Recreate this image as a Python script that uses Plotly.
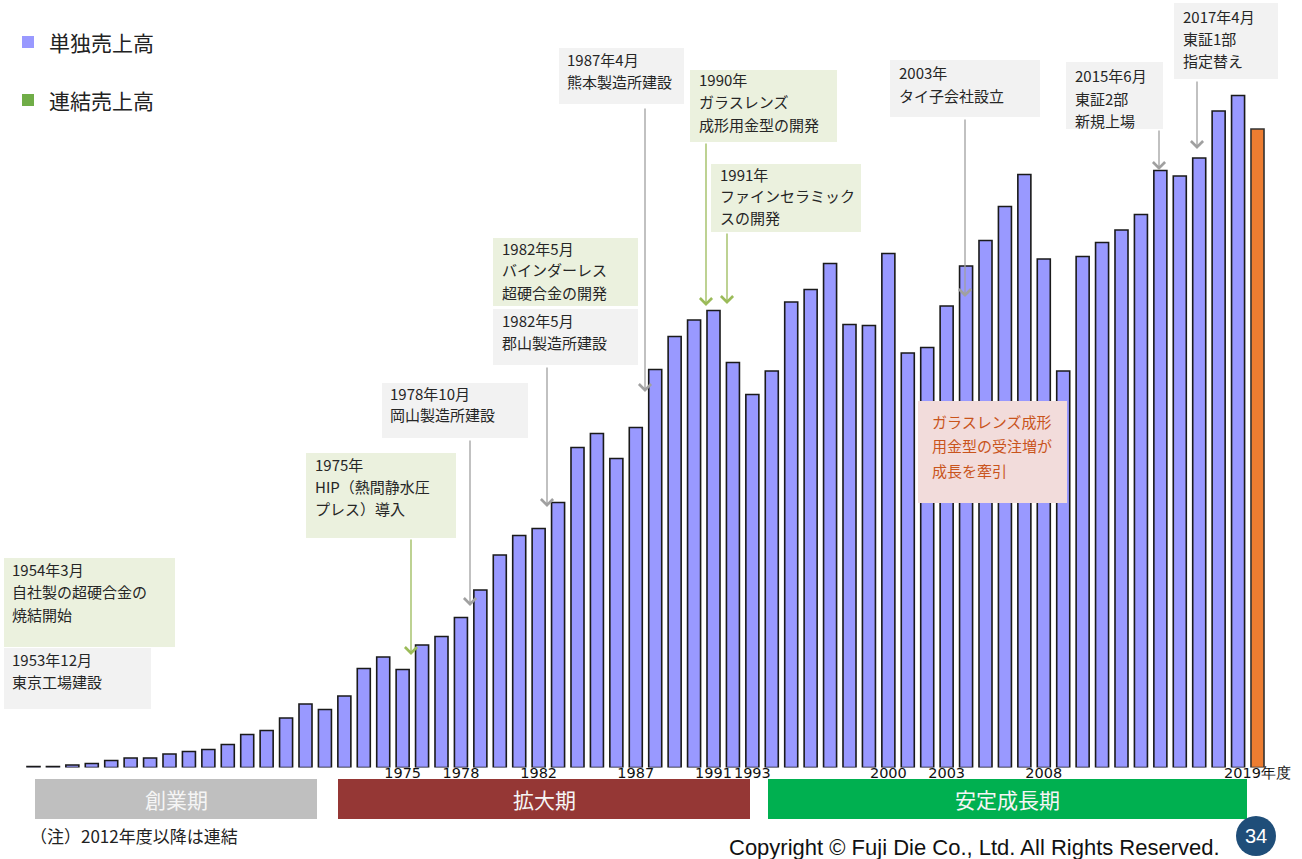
import plotly.graph_objects as go

W, H = 1302, 859

# 売上高（百万円）
years = list(range(1956, 2019))
sales_standalone = [20, 20, 50, 80, 140, 190, 190, 270, 320, 360,
                    460, 660, 740, 990, 1270, 1160, 1430, 1980, 2210, 1960,
                    2450, 2620, 3000, 3550, 4250, 4640, 4780, 5300, 6400, 6680,
                    6180, 6800, 7960, 8620, 8950, 9140, 8100, 7460, 7930, 9310,
                    9560, 10080, 8860, 8840, 10280, 8290, 8400, 9230, 10030, 10540,
                    11220, 11860, 10170, 7930, 10220, 10500, 10750, 11060, 11940, 11830,
                    12190, 13130, 13440]
year_latest = [2019]
sales_latest = [12770]

tick_years = [1975, 1978, 1982, 1987, 1991, 1993, 2000, 2003, 2008, 2019]
tick_text = ["1975", "1978", "1982", "1987", "1991", "1993", "2000", "2003", "2008", "2019年度"]

legend_names = ["単独売上高", "連結売上高"]
legend_colors = ["#9999FF", "#70AD47"]

phase_names = ["創業期", "拡大期", "安定成長期"]
phase_colors = ["#BFBFBF", "#953735", "#00B050"]

event_texts = [
    ["1953年12月", "東京工場建設"],
    ["1954年3月", "自社製の超硬合金の", "焼結開始"],
    ["1975年", "HIP（熱間静水圧", "プレス）導入"],
    ["1978年10月", "岡山製造所建設"],
    ["1982年5月", "バインダーレス", "超硬合金の開発"],
    ["1982年5月", "郡山製造所建設"],
    ["1987年4月", "熊本製造所建設"],
    ["1990年", "ガラスレンズ", "成形用金型の開発"],
    ["1991年", "ファインセラミック", "スの開発"],
    ["2003年", "タイ子会社設立"],
    ["2015年6月", "東証2部", "新規上場"],
    ["2017年4月", "東証1部", "指定替え"],
]
note_text = ["ガラスレンズ成形", "用金型の受注増が", "成長を牽引"]

GRAY_BOX = "#F2F2F2"
GREEN_BOX = "#EBF1DE"
GRAY_ARROW = "#A0A0A0"
GREEN_ARROW = "#9BBB59"
FONT = "Noto Sans CJK JP"

# pixel helpers for layout decorations
def px(x):
    return x / W


def py(y):
    return 1 - y / H


# box placement: (x0, y0, x1, y1, fill, text_left, first_line_center, line_step)
event_boxes = [
    (4, 648, 151, 709, GRAY_BOX, 10, 659, 22.5),
    (4, 558, 175, 647, GREEN_BOX, 10, 569, 22.5),
    (306, 453, 456, 538, GREEN_BOX, 313, 464, 22),
    (382, 383, 528, 438, GRAY_BOX, 388, 393, 21.5),
    (493, 238, 638, 306, GREEN_BOX, 500, 248, 22),
    (493, 309, 638, 365, GRAY_BOX, 500, 320, 22),
    (559, 48, 684, 104, GRAY_BOX, 565, 59, 22.5),
    (690, 70, 837, 142, GREEN_BOX, 697, 80, 22),
    (711, 164, 861, 232, GREEN_BOX, 718, 174, 22),
    (890, 60, 1040, 117, GRAY_BOX, 897, 72, 23),
    (1066, 62, 1163, 129, GRAY_BOX, 1073, 76, 22),
    (1174, 3, 1278, 79, GRAY_BOX, 1181, 17, 21.5),
]
# arrows: (x, tail_y, tip_y, colour)
event_arrows = [
    (411, 538, 655, GREEN_ARROW),
    (470, 439, 606, GRAY_ARROW),
    (547, 366, 507, GRAY_ARROW),
    (645, 107, 392, GRAY_ARROW),
    (706, 142, 306, GREEN_ARROW),
    (727, 232, 304, GREEN_ARROW),
    (965, 118, 297, GRAY_ARROW),
    (1159, 129, 170, GRAY_ARROW),
    (1197, 80, 149, GRAY_ARROW),
]

# x scale: one year per 19.43 px, first bar centred at 33.5 px
pitch = 1224 / 63
x_lo = years[0] - 33.5 / pitch
x_hi = x_lo + W / pitch
baseline_px = 767.5
y_per_px = 20.0

fig = go.Figure()
fig.add_trace(go.Bar(
    x=years, y=sales_standalone, name=legend_names[0],
    marker=dict(color="#9999FF", line=dict(color="#1A1A1A", width=1.6)),
    showlegend=False,
))
fig.add_trace(go.Bar(
    x=year_latest, y=sales_latest, name="2019年度",
    marker=dict(color="#ED7D31", line=dict(color="#333333", width=1.6)),
    showlegend=False,
))

shapes = []
annotations = []

# legend
for i, (name, color) in enumerate(zip(legend_names, legend_colors)):
    cy = 42 + i * 58
    shapes.append(dict(type="rect", xref="paper", yref="paper",
                       x0=px(22), x1=px(34), y0=py(cy - 6), y1=py(cy + 6),
                       fillcolor=color, line=dict(width=0)))
    annotations.append(dict(xref="paper", yref="paper", x=px(47), y=py(cy),
                            xanchor="left", yanchor="middle", showarrow=False,
                            text=name, font=dict(family=FONT, size=21, color="#222222")))

# event boxes
for lines, (x0, y0, x1, y1, fill, tx, ty, step) in zip(event_texts, event_boxes):
    shapes.append(dict(type="rect", xref="paper", yref="paper",
                       x0=px(x0), x1=px(x1), y0=py(y1), y1=py(y0),
                       fillcolor=fill, line=dict(width=0), layer="below"))
    for j, line in enumerate(lines):
        annotations.append(dict(xref="paper", yref="paper", x=px(tx), y=py(ty + j * step),
                                xanchor="left", yanchor="middle", showarrow=False,
                                text=line, font=dict(family=FONT, size=15, color="#262626")))

# highlighted note
shapes.append(dict(type="rect", xref="paper", yref="paper",
                   x0=px(918), x1=px(1067), y0=py(503), y1=py(401),
                   fillcolor="#F2DCDB", line=dict(width=0)))
for j, line in enumerate(note_text):
    annotations.append(dict(xref="paper", yref="paper", x=px(930), y=py(421 + j * 24.5),
                            xanchor="left", yanchor="middle", showarrow=False,
                            text=line, font=dict(family=FONT, size=15, color="#C9541C")))

# arrows
for (ax_, tail, tip, color) in event_arrows:
    annotations.append(dict(xref="paper", yref="paper", x=px(ax_), y=py(tip),
                            ax=0, ay=tail - tip, axref="pixel", ayref="pixel",
                            text="", showarrow=True, arrowhead=4, arrowsize=1.8,
                            arrowwidth=1.3, arrowcolor=color))

# phase bands
phase_spans = [(35, 317), (338, 750), (768, 1247)]
for name, color, (x0, x1) in zip(phase_names, phase_colors, phase_spans):
    shapes.append(dict(type="rect", xref="paper", yref="paper",
                       x0=px(x0), x1=px(x1), y0=py(819), y1=py(779),
                       fillcolor=color, line=dict(width=0), layer="below"))
    annotations.append(dict(xref="paper", yref="paper", x=px((x0 + x1) / 2), y=py(799),
                            xanchor="center", yanchor="middle", showarrow=False,
                            text=name, font=dict(family=FONT, size=21, color="#F5F5F5")))

# footer
annotations.append(dict(xref="paper", yref="paper", x=px(28), y=py(835),
                        xanchor="left", yanchor="middle", showarrow=False,
                        text="（注）2012年度以降は連結",
                        font=dict(family=FONT, size=17, color="#222222")))
annotations.append(dict(xref="paper", yref="paper", x=px(1222), y=py(847),
                        xanchor="right", yanchor="middle", showarrow=False,
                        text="Copyright © Fuji Die Co., Ltd. All Rights Reserved.",
                        font=dict(family="Liberation Sans", size=22, color="#111111")))
shapes.append(dict(type="circle", xref="paper", yref="paper",
                   x0=px(1236), x1=px(1276), y0=py(856), y1=py(816),
                   fillcolor="#1F4E79", line=dict(width=0)))
annotations.append(dict(xref="paper", yref="paper", x=px(1256), y=py(836),
                        xanchor="center", yanchor="middle", showarrow=False,
                        text="34", font=dict(family="Liberation Sans", size=20, color="white")))

fig.update_layout(
    width=W, height=H,
    margin=dict(l=0, r=0, t=0, b=0),
    paper_bgcolor="white", plot_bgcolor="rgba(0,0,0,0)",
    barmode="overlay", bargap=0.33,
    font=dict(family=FONT),
    xaxis=dict(domain=[0, 1], range=[x_lo, x_hi], anchor="free",
               position=1 - 762.5 / H, tickangle=0,
               tickvals=tick_years, ticktext=tick_text, ticks="",
               showgrid=False, showline=False, zeroline=False,
               tickfont=dict(family="DejaVu Sans", size=14.5, color="#111111")),
    yaxis=dict(domain=[1 - baseline_px / H, 1], range=[0, baseline_px * y_per_px],
               visible=False, showgrid=False, zeroline=False),
    shapes=shapes,
    annotations=annotations,
)

fig.write_html("out.html")
